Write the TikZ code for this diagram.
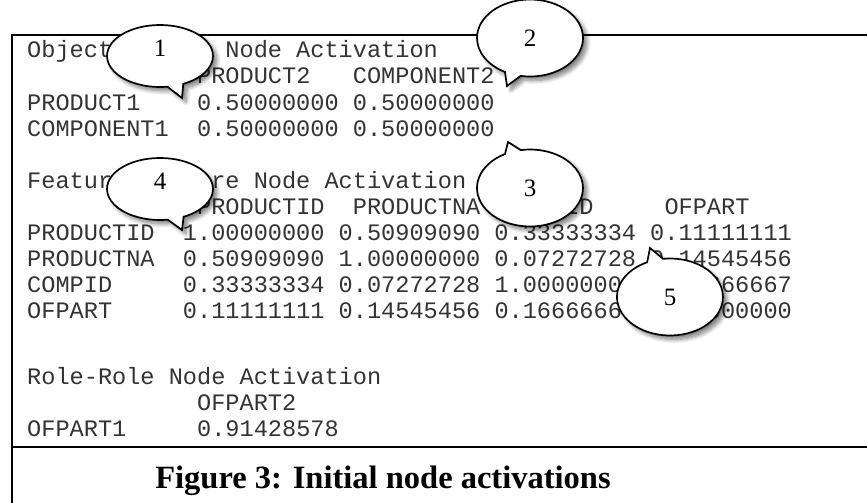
\documentclass[tikz,border=0pt]{standalone}
\usepackage{fontspec}
\setmainfont{Liberation Serif}
\setmonofont{Liberation Mono}
\usetikzlibrary{shapes.callouts,shadows.blur}

\begin{document}
\begin{tikzpicture}[x=1pt,y=-1pt,
        txt/.style={font=\ttfamily\fontsize{23.6}{26}\selectfont,text=black!80,anchor=base west,inner sep=0pt},
        frame/.style={line width=1.9pt},
        bubble/.style={ellipse callout,draw,line width=1.7pt,fill=white,
            minimum width=106pt,minimum height=77pt,callout pointer arc=18,
            font=\rmfamily\fontsize{25}{27}\selectfont,
            blur shadow={shadow xshift=4pt,shadow yshift=-4pt,shadow blur steps=8,shadow blur radius=4pt,shadow opacity=50}},
        small/.style={minimum height=62pt,text depth=16pt}]
            \useasboundingbox (0,0) rectangle (867,503);

            % activation tables
            \node[txt] (t0) at (27,58) {Object-Object Node Activation};
            \node[txt] (t1) at (27,84) {~~~~~~~~~~~~PRODUCT2~~~COMPONENT2};
            \node[txt] (t2) at (27,110) {PRODUCT1~~~~0.50000000 0.50000000};
            \node[txt] (t3) at (27,136) {COMPONENT1~~0.50000000 0.50000000};
            \node[txt] (t5) at (27,188) {Feature-Feature Node Activation};
            \node[txt] (t6) at (27,214) {~~~~~~~~~~~~PRODUCTID~~PRODUCTNA~~COMPID~~~~~OFPART};
            \node[txt] (t7) at (27,240) {PRODUCTID~~1.00000000 0.50909090 0.33333334 0.11111111};
            \node[txt] (t8) at (27,266) {PRODUCTNA~~0.50909090 1.00000000 0.07272728 0.14545456};
            \node[txt] (t9) at (27,292) {COMPID~~~~~0.33333334 0.07272728 1.00000000 0.16666667};
            \node[txt] (t10) at (27,318) {OFPART~~~~~0.11111111 0.14545456 0.16666667 1.00000000};
            \node[txt] (t13) at (27,384) {Role-Role Node Activation};
            \node[txt] (t14) at (27,410) {~~~~~~~~~~~~OFPART2};
            \node[txt] (t15) at (27,436) {OFPART1~~~~~0.91428578};

            % frame
            \coordinate (TL) at (12,35);
            \coordinate (TR) at (867,35);
            \coordinate (BL) at (12,503);
            \coordinate (SL) at (12,447);
            \coordinate (SR) at (867,447);
            \draw[frame] (BL) -- (TL) -- (TR);
            \draw[frame] (SL) -- (SR);

            \node[font=\rmfamily\bfseries\fontsize{32.5}{34}\selectfont] (cap) at (383,481) {Figure 3: Initial node activations};

            % callouts
            \coordinate (p1) at (182,98);
            \coordinate (p2) at (507,86);
            \coordinate (p3) at (508,142);
            \coordinate (p4) at (182,230);
            \coordinate (p5) at (650,248);
            \node[bubble,small,callout absolute pointer={(p1)}] (c1) at (160,56) {1};
            \node[bubble,callout absolute pointer={(p2)}] (c2) at (530,38) {2};
            \node[bubble,callout absolute pointer={(p3)}] (c3) at (530,188) {3};
            \node[bubble,small,callout absolute pointer={(p4)}] (c4) at (160,189) {4};
            \node[bubble,callout absolute pointer={(p5)}] (c5) at (670,297) {5};
\end{tikzpicture}
\end{document}
